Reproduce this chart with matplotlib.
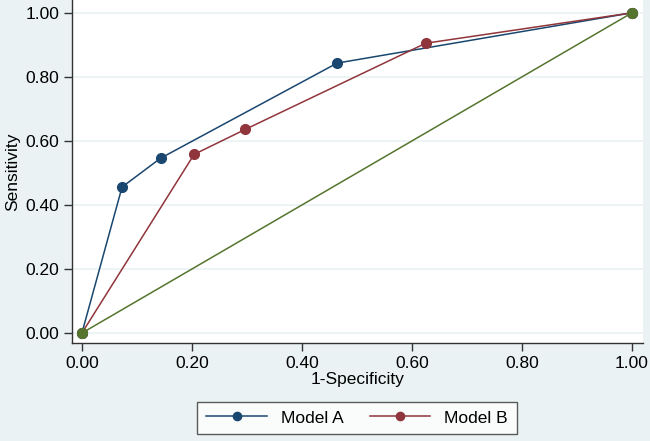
import matplotlib
matplotlib.use('Agg')
import matplotlib.pyplot as plt

plt.rcParams['font.family'] = ['Liberation Sans', 'DejaVu Sans']

# ROC points
model_a_x = [0.0, 0.073, 0.143, 0.464, 1.0]
model_a_y = [0.0, 0.456, 0.546, 0.843, 1.0]
model_b_x = [0.0, 0.204, 0.297, 0.625, 1.0]
model_b_y = [0.0, 0.558, 0.636, 0.905, 1.0]
ref_x = [0.0, 1.0]
ref_y = [0.0, 1.0]
ticks = [0.0, 0.2, 0.4, 0.6, 0.8, 1.0]
tick_labels = ['0.00', '0.20', '0.40', '0.60', '0.80', '1.00']

fig = plt.figure(figsize=(6.5, 4.41), dpi=100, facecolor='#eaf2f3')
ax = fig.add_axes([72 / 650, 1 - 343 / 441, (643 - 72) / 650, 343 / 441])
ax.set_facecolor('white')

blue = '#1a476f'
red = '#90353b'
green = '#55752f'

ax.plot(ref_x, ref_y, color=green, lw=1.1, marker='o', markersize=7, zorder=3)
ax.plot(model_a_x, model_a_y, color=blue, lw=1.1, marker='o', markersize=7, label='Model A', zorder=2)
ax.plot(model_b_x, model_b_y, color=red, lw=1.1, marker='o', markersize=7, label='Model B', zorder=2)

ax.set_xlim(-0.018, 1.02)
ax.set_ylim(-0.031, 1.04)
ax.set_xticks(ticks)
ax.set_xticklabels(tick_labels)
ax.set_yticks(ticks)
ax.set_yticklabels(tick_labels)
ax.tick_params(labelsize=12.5, length=6, width=1, color='#333333', pad=3)
ax.yaxis.grid(True, color='#eaf2f3', lw=1.2)
ax.set_axisbelow(True)

for s in ['top', 'right']:
    ax.spines[s].set_visible(False)
for s in ['left', 'bottom']:
    ax.spines[s].set_color('#333333')
    ax.spines[s].set_linewidth(1)

ax.set_xlabel('1-Specificity', fontsize=12.5, labelpad=1)
ax.set_ylabel('Sensitivity', fontsize=12.5, labelpad=4)

leg = fig.legend(handles=ax.get_lines()[1:], loc='center', bbox_to_anchor=(357 / 650, 1 - 418 / 441),
                 ncol=2, fontsize=12.5, frameon=True, fancybox=False, edgecolor='#333333',
                 handlelength=3.5, columnspacing=1.5, borderpad=0.5, markerscale=0.85)
leg.get_frame().set_linewidth(1)

fig.savefig('out.png', dpi=100, facecolor=fig.get_facecolor())
